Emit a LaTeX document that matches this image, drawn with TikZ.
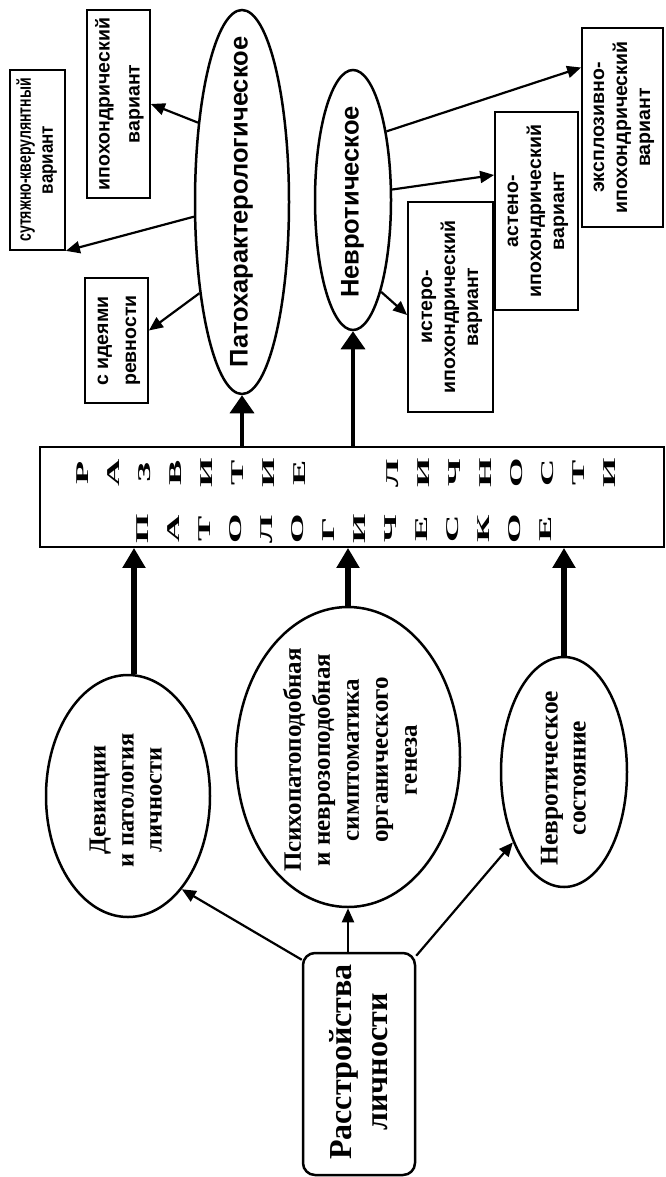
\documentclass[tikz,border=0pt]{standalone}
\usepackage{fontspec}
\setmainfont{Liberation Serif}
\setsansfont{Liberation Sans}
\usetikzlibrary{calc,shapes.geometric,arrows.meta}

\newcommand{\vlab}[2][c]{\rotatebox{90}{\begin{tabular}{@{}#1@{}}#2\end{tabular}}}
\newcommand{\wideletter}[1]{\rotatebox{90}{\scalebox{2.1}[1]{#1}}}

\begin{document}
\begin{tikzpicture}[x=1pt, y=-1pt]

\def\lineWidth{2.5pt}
\def\boxLine{1.8pt}
\def\letterStep{31}
\tikzset{
  oval/.style={ellipse, draw, line width=\lineWidth, inner sep=0pt},
  vbox/.style={rectangle, draw, line width=\boxLine, inner sep=0pt},
  sanstext/.style={inner sep=0pt, font=\sffamily\bfseries\fontsize{19.5}{23}\selectfont},
  seriftext/.style={inner sep=0pt, font=\bfseries\fontsize{24.5}{28}\selectfont},
  headtext/.style={inner sep=0pt, font=\sffamily\bfseries\fontsize{25.5}{28}\selectfont},
  bigletter/.style={inner sep=0pt, font=\bfseries\fontsize{18}{18}\selectfont},
  thinarrow/.style={line width=2.2pt, -{Triangle[length=14pt, width=12pt]}},
  midarrow/.style={line width=3.5pt, -{Triangle[length=18pt, width=24pt]}},
  fatarrow/.style={line width=6.5pt, -{Triangle[length=20pt, width=22pt]}},
}

\fill[white] (0,0) rectangle (665,1177);
\useasboundingbox (0,0) rectangle (665,1177);

\coordinate (pat-c) at (242,202);
\coordinate (nev-c) at (353,200);
\coordinate (big-c) at (352,497);
\coordinate (dev-c) at (128,796);
\coordinate (psy-c) at (348,757);
\coordinate (neu-c) at (564,772);
\coordinate (root-c) at (359,1064);


%DRAW

% upper ovals and their boxes
\node[oval, minimum width=94pt, minimum height=384pt] (pat) at (pat-c) {};
\node[headtext] (pat-txt) at (pat-c) {\vlab{Патохарактерологическое}};
\node[oval, minimum width=76pt, minimum height=260pt] (nev) at (nev-c) {};
\node[headtext] (nev-txt) at (353,202) {\vlab{Невротическое}};

\node[vbox, sanstext, minimum width=63pt, minimum height=188pt,
  font=\sffamily\bfseries\fontsize{19.5}{30}\selectfont] (ipo) at (118.5,104) {\vlab{ипохондрический\\вариант}};
\node[vbox, sanstext, minimum width=55pt, minimum height=180pt,
  font=\sffamily\bfseries\fontsize{19.5}{22}\selectfont] (sut) at (37.5,160)
  {\vlab{\scalebox{0.72}[1]{сутяжно-кверулянтный}\\\scalebox{0.87}[1]{вариант}}};
\node[vbox, sanstext, minimum width=63pt, minimum height=125pt,
  font=\sffamily\bfseries\fontsize{19.5}{28}\selectfont] (rev) at (116.5,340.5) {\vlab[l]{с идеями\\ревности}};

\node[vbox, sanstext, minimum width=81pt, minimum height=199pt] (exp) at (622.5,127.5) {\vlab{эксплозивно-\\ипохондрический\\вариант}};
\node[vbox, sanstext, minimum width=83pt, minimum height=198pt] (ast) at (536.5,211) {\vlab{астено-\\ипохондрический\\вариант}};
\node[vbox, sanstext, minimum width=85pt, minimum height=210pt] (ist) at (450.5,307) {\vlab{истеро-\\ипохондрический\\вариант}};

% big box with spaced letters
\node[vbox, line width=1.8pt, minimum width=624pt, minimum height=100pt] (big) at (big-c) {};
\foreach \ch [count=\i from 0] in {Р,А,З,В,И,Т,И,Е}
  \node[bigletter] (up-\i) at (83+\letterStep*\i, 473) {\wideletter{\ch}};
\foreach \ch [count=\i from 0] in {Л,И,Ч,Н,О,С,Т,И}
  \node[bigletter] (up2-\i) at (393+\letterStep*\i, 473) {\wideletter{\ch}};
\foreach \ch [count=\i from 0] in {П,А,Т,О,Л,О,Г,И,Ч,Е,С,К,О,Е}
  \node[bigletter] (low-\i) at (143+\letterStep*\i, 529) {\wideletter{\ch}};

% lower ovals and the root
\node[oval, minimum width=164pt, minimum height=242pt] (dev) at (dev-c) {};
\node[seriftext] (dev-txt) at (128,800) {\vlab{Девиации\\и патология\\личности}};
\node[oval, minimum width=224pt, minimum height=300pt] (psy) at (psy-c) {};
\node[seriftext, font=\bfseries\fontsize{25}{29}\selectfont] (psy-txt) at (353,760)
  {\vlab{Психопатоподобная\\и неврозоподобная\\симптоматика\\органического\\генеза}};
\node[oval, minimum width=126pt, minimum height=230pt] (neu) at (neu-c) {};
\node[seriftext, font=\bfseries\fontsize{25.5}{28}\selectfont] (neu-txt) at (566,778) {\vlab{Невротическое\\состояние}};

\node[draw, rounded corners=12pt, line width=2.5pt, minimum width=112pt, minimum height=222pt] (root) at (root-c) {};
\node[seriftext, font=\bfseries\fontsize{32}{36}\selectfont] (root-txt) at (362,1062) {\vlab{Расстройства\\личности}};

% arrows
\draw[thinarrow] ($(root.north west)+(0,8)$) -- (dev.300);
\draw[thinarrow] (root.north -| psy.south) -- (psy.south);
\draw[thinarrow] ($(root.north east)+(0,4)$) -- (neu.234);

\coordinate (dev-top) at ($(dev.north)+(6,0)$);
\draw[fatarrow] (dev-top) -- (dev-top |- big.south);
\draw[fatarrow] (psy.north) -- (psy.north |- big.south);
\draw[fatarrow] (neu.north) -- (neu.north |- big.south);

\draw[midarrow] (big.north -| pat.south) -- (pat.south);
\draw[midarrow] (big.north -| nev.south) -- (nev.south);

\draw[thinarrow] (pat.119) -- (ipo.east);
\draw[thinarrow] (pat.197) -- (sut.south east);
\draw[thinarrow] (pat.245) -- ($(rev.east)+(0,-10)$);
\draw[thinarrow] (nev.64) -- ($(exp.west)+(0,-60)$);
\draw[thinarrow] (nev.15) -- ($(ast.west)+(0,-36)$);
\draw[thinarrow] (nev.287) -- ($(ist.west)+(0,8)$);

\end{tikzpicture}
\end{document}
